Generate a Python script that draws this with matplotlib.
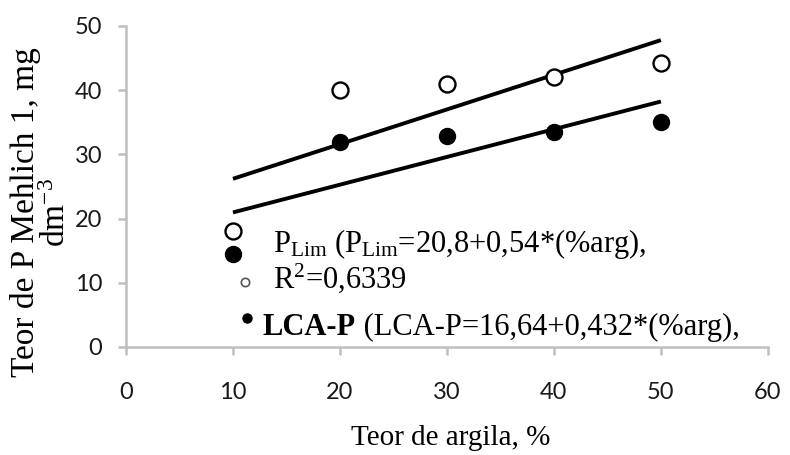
import matplotlib
matplotlib.use("Agg")
import matplotlib.pyplot as plt

# ---- data ----
argila = [10, 20, 30, 40, 50]
p_lim = [18, 40, 41, 42, 44.2]
lca_p = [14.5, 32, 32.8, 33.5, 35]
trend_x = [10, 50]
p_lim_trend = [26.2, 47.8]
lca_p_trend = [20.96, 38.24]
x_ticks = [0, 10, 20, 30, 40, 50, 60]
y_ticks = [0, 10, 20, 30, 40, 50]

plt.rcParams['mathtext.fontset'] = 'custom'
plt.rcParams['mathtext.rm'] = 'Liberation Serif'
plt.rcParams['mathtext.it'] = 'Liberation Serif:italic'
plt.rcParams['mathtext.bf'] = 'Liberation Serif:bold'

serif = 'Liberation Serif'

fig = plt.figure(figsize=(7.9, 4.55), dpi=100)
ax = fig.add_axes([0.1595, 0.2374, 0.8125, 0.7055])

ax.plot(trend_x, p_lim_trend, color='black', lw=2.8, solid_capstyle='butt', zorder=2)
ax.plot(trend_x, lca_p_trend, color='black', lw=2.8, solid_capstyle='butt', zorder=2)
ax.plot(argila, p_lim, 'o', ms=11.5, mfc='white', mec='black', mew=1.7, ls='none', zorder=3)
ax.plot(argila, lca_p, 'o', ms=11.5, mfc='black', mec='black', ls='none', zorder=3)

ax.set_xlim(0, 60)
ax.set_ylim(0, 50)
ax.set_xticks(x_ticks)
ax.set_yticks(y_ticks)
for s in ['top', 'right']:
    ax.spines[s].set_visible(False)
for s in ['left', 'bottom']:
    ax.spines[s].set_color('#bfbfbf')
    ax.spines[s].set_linewidth(1.8)
ax.tick_params(axis='both', colors='#bfbfbf', width=1.8, length=6, labelcolor='#1a1a1a')
ax.tick_params(axis='x', pad=19)
ax.tick_params(axis='y', pad=11)
for lab in ax.get_xticklabels() + ax.get_yticklabels():
    lab.set_fontfamily('Lato')
    lab.set_fontsize(17)

# axis titles
ax.text(-0.157, 0.42, 'Teor de P Mehlich 1, mg', rotation=90,
        ha='center', va='center', fontsize=24, family=serif, transform=ax.transAxes)
ax.text(-0.1075, 0.42, 'dm$^{-3}$', rotation=90,
        ha='center', va='center', fontsize=24, family=serif, transform=ax.transAxes)
ax.text(0.506, -0.283, 'Teor de argila, %', ha='center', va='center',
        fontsize=21, family=serif, transform=ax.transAxes)

# legend (keys + text)
ax.plot([0.185], [0.202], 'o', ms=6, mfc='white', mec='#555555', mew=1.2,
        transform=ax.transAxes, clip_on=False)
ax.plot([0.188], [0.090], 'o', ms=6.5, mfc='black', mec='black',
        transform=ax.transAxes, clip_on=False)
ax.text(0.229, 0.296, r'P$_{\mathrm{Lim}}$ (P$_{\mathrm{Lim}}$=20,8+0,54*(%arg),',
        fontsize=22, family=serif, transform=ax.transAxes, va='baseline')
ax.text(0.229, 0.184, r'R$^{2}$=0,6339', fontsize=22, family=serif,
        transform=ax.transAxes, va='baseline')
t1 = ax.text(0.213, 0.037, 'LCA-P', fontsize=22, family=serif, fontweight='bold',
             transform=ax.transAxes, va='baseline')
ax.annotate(' (LCA-P=16,64+0,432*(%arg),', xy=(1, 0), xycoords=t1,
            ha='left', va='bottom', fontsize=22, family=serif)

fig.savefig('out.png', dpi=100)
